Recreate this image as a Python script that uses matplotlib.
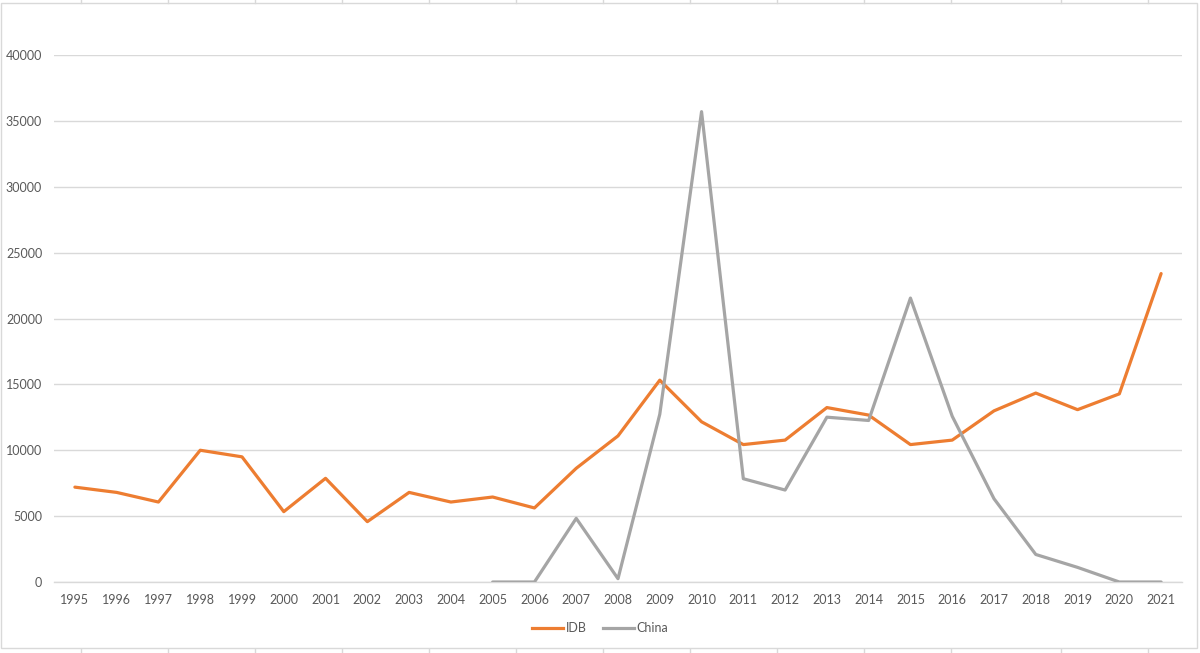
import matplotlib
matplotlib.use("Agg")
import matplotlib.pyplot as plt
from matplotlib.patches import Rectangle
from matplotlib.lines import Line2D
import numpy as np

years = [str(y) for y in range(1995, 2022)]
idb = [7200, 6800, 6070, 10000, 9500, 5340, 7870, 4580, 6800, 6070, 6450, 5620,
       8630, 11090, 15320, 12160, 10430, 10770, 13240, 12670, 10430, 10770,
       12990, 14340, 13080, 14280, 23410]
china_years = [str(y) for y in range(2005, 2022)]
china = [0, 0, 4830, 250, 12730, 35700, 7840, 6980, 12510, 12260, 21550, 12580,
         6320, 2090, 1110, 0, 0]

W, H = 1200, 653
fig = plt.figure(figsize=(W / 100, H / 100), dpi=100)
plt.rcParams['font.family'] = ['Lato', 'DejaVu Sans']

ax = fig.add_axes([54 / W, 1 - 582 / H, (1182 - 54) / W, (582 - 55) / H])
x_idb = np.arange(len(years))
x_china = np.array([years.index(y) for y in china_years])

ax.plot(x_idb, idb, color='#ED7D31', lw=2.3, solid_joinstyle='round',
        solid_capstyle='round', label='IDB', zorder=3)
ax.plot(x_china, china, color='#A5A5A5', lw=2.3, solid_joinstyle='round',
        solid_capstyle='round', label='China', zorder=3)

ax.set_xlim(-0.5, len(years) - 0.5)
ax.set_ylim(0, 40000)
ax.set_yticks(np.arange(0, 40001, 5000))
ax.set_yticklabels([str(v) for v in range(0, 40001, 5000)])
ax.set_xticks(x_idb)
ax.set_xticklabels(years)
ax.grid(axis='y', color='#D9D9D9', lw=1, zorder=0)
ax.grid(axis='x', visible=False)
for s in ['top', 'right', 'left']:
    ax.spines[s].set_visible(False)
ax.spines['bottom'].set_color('#D9D9D9')
ax.spines['bottom'].set_linewidth(1)
ax.tick_params(axis='both', length=0, labelsize=9, colors='#595959')
ax.tick_params(axis='y', pad=8.5)
ax.tick_params(axis='x', pad=8.5)

handles = [Line2D([], [], color='#ED7D31', lw=2.3), Line2D([], [], color='#A5A5A5', lw=2.3)]
leg = fig.legend(handles, ['IDB', 'China'], loc='center', bbox_to_anchor=(0.5, 1 - 628 / H),
                 ncol=2, frameon=False, fontsize=9, handlelength=2.5, handletextpad=0.2,
                 columnspacing=1.3)
for t in leg.get_texts():
    t.set_color('#595959')

# chart area border
fig.patches.append(Rectangle((1 / W, 1 - 648 / H), 1196 / W, 645 / H, transform=fig.transFigure,
                             fill=False, edgecolor='#D9D9D9', lw=1))
# spreadsheet cell lines outside the chart
for xc in [81, 168, 255, 342, 429, 516, 603, 690, 777, 864, 951, 1061, 1148]:
    fig.add_artist(Line2D([xc / W, xc / W], [1 - 0 / H, 1 - 3 / H], transform=fig.transFigure,
                          color='#D9D9D9', lw=1))
    fig.add_artist(Line2D([xc / W, xc / W], [1 - 649 / H, 0], transform=fig.transFigure,
                          color='#D9D9D9', lw=1))

fig.savefig('out.png', dpi=100, facecolor='white')
